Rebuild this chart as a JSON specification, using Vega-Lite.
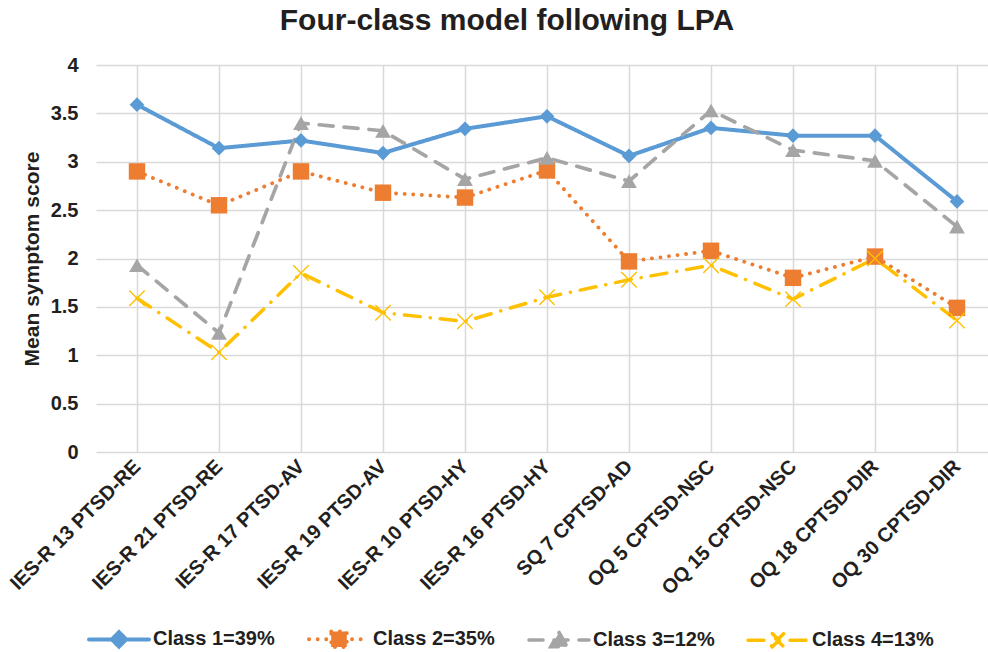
{
  "$schema": "https://vega.github.io/schema/vega-lite/v6.json",
  "width": 892,
  "height": 387,
  "autosize": "none",
  "padding": {"left": 96, "top": 65, "right": 0, "bottom": 200},
  "background": "white",
  "config": {
    "font": "Liberation Sans",
    "view": {"stroke": null},
    "axis": {"labelColor": "#231f20", "titleColor": "#231f20"}
  },
  "title": {
    "text": "Four-class model following LPA",
    "fontSize": 30,
    "fontWeight": "bold",
    "color": "#231f20",
    "anchor": "middle",
    "frame": "group",
    "dx": -35,
    "offset": 19
  },
  "data": {
    "values": [
      {"item": "IES-R 13 PTSD-RE", "cls": "Class 1=39%", "score": 3.59},
      {"item": "IES-R 21 PTSD-RE", "cls": "Class 1=39%", "score": 3.14},
      {"item": "IES-R 17 PTSD-AV", "cls": "Class 1=39%", "score": 3.22},
      {"item": "IES-R 19 PTSD-AV", "cls": "Class 1=39%", "score": 3.09},
      {"item": "IES-R 10 PTSD-HY", "cls": "Class 1=39%", "score": 3.34},
      {"item": "IES-R 16 PTSD-HY", "cls": "Class 1=39%", "score": 3.47},
      {"item": "SQ 7 CPTSD-AD", "cls": "Class 1=39%", "score": 3.06},
      {"item": "OQ 5 CPTSD-NSC", "cls": "Class 1=39%", "score": 3.35},
      {"item": "OQ 15 CPTSD-NSC", "cls": "Class 1=39%", "score": 3.27},
      {"item": "OQ 18 CPTSD-DIR", "cls": "Class 1=39%", "score": 3.27},
      {"item": "OQ 30 CPTSD-DIR", "cls": "Class 1=39%", "score": 2.59},
      {"item": "IES-R 13 PTSD-RE", "cls": "Class 2=35%", "score": 2.9},
      {"item": "IES-R 21 PTSD-RE", "cls": "Class 2=35%", "score": 2.55},
      {"item": "IES-R 17 PTSD-AV", "cls": "Class 2=35%", "score": 2.9},
      {"item": "IES-R 19 PTSD-AV", "cls": "Class 2=35%", "score": 2.68},
      {"item": "IES-R 10 PTSD-HY", "cls": "Class 2=35%", "score": 2.63},
      {"item": "IES-R 16 PTSD-HY", "cls": "Class 2=35%", "score": 2.91},
      {"item": "SQ 7 CPTSD-AD", "cls": "Class 2=35%", "score": 1.97},
      {"item": "OQ 5 CPTSD-NSC", "cls": "Class 2=35%", "score": 2.08},
      {"item": "OQ 15 CPTSD-NSC", "cls": "Class 2=35%", "score": 1.8},
      {"item": "OQ 18 CPTSD-DIR", "cls": "Class 2=35%", "score": 2.02},
      {"item": "OQ 30 CPTSD-DIR", "cls": "Class 2=35%", "score": 1.49},
      {"item": "IES-R 13 PTSD-RE", "cls": "Class 3=12%", "score": 1.93},
      {"item": "IES-R 21 PTSD-RE", "cls": "Class 3=12%", "score": 1.23},
      {"item": "IES-R 17 PTSD-AV", "cls": "Class 3=12%", "score": 3.4},
      {"item": "IES-R 19 PTSD-AV", "cls": "Class 3=12%", "score": 3.32},
      {"item": "IES-R 10 PTSD-HY", "cls": "Class 3=12%", "score": 2.82},
      {"item": "IES-R 16 PTSD-HY", "cls": "Class 3=12%", "score": 3.04},
      {"item": "SQ 7 CPTSD-AD", "cls": "Class 3=12%", "score": 2.8},
      {"item": "OQ 5 CPTSD-NSC", "cls": "Class 3=12%", "score": 3.53},
      {"item": "OQ 15 CPTSD-NSC", "cls": "Class 3=12%", "score": 3.12},
      {"item": "OQ 18 CPTSD-DIR", "cls": "Class 3=12%", "score": 3.01},
      {"item": "OQ 30 CPTSD-DIR", "cls": "Class 3=12%", "score": 2.33},
      {"item": "IES-R 13 PTSD-RE", "cls": "Class 4=13%", "score": 1.59},
      {"item": "IES-R 21 PTSD-RE", "cls": "Class 4=13%", "score": 1.03},
      {"item": "IES-R 17 PTSD-AV", "cls": "Class 4=13%", "score": 1.85},
      {"item": "IES-R 19 PTSD-AV", "cls": "Class 4=13%", "score": 1.44},
      {"item": "IES-R 10 PTSD-HY", "cls": "Class 4=13%", "score": 1.35},
      {"item": "IES-R 16 PTSD-HY", "cls": "Class 4=13%", "score": 1.6},
      {"item": "SQ 7 CPTSD-AD", "cls": "Class 4=13%", "score": 1.78},
      {"item": "OQ 5 CPTSD-NSC", "cls": "Class 4=13%", "score": 1.93},
      {"item": "OQ 15 CPTSD-NSC", "cls": "Class 4=13%", "score": 1.58},
      {"item": "OQ 18 CPTSD-DIR", "cls": "Class 4=13%", "score": 2.0},
      {"item": "OQ 30 CPTSD-DIR", "cls": "Class 4=13%", "score": 1.36}
    ]
  },
  "encoding": {
    "y": {
      "field": "score",
      "type": "quantitative",
      "scale": {"domain": [0, 4], "nice": false, "zero": true},
      "axis": {
        "values": [0, 0.5, 1, 1.5, 2, 2.5, 3, 3.5, 4],
        "format": "~g",
        "title": "Mean symptom score",
        "titleFontSize": 21,
        "titleFontWeight": "bold",
        "titlePadding": 8,
        "labelFontSize": 20,
        "labelFontWeight": "bold",
        "labelPadding": 18,
        "grid": true,
        "gridColor": "#d9d9d9",
        "gridWidth": 1.5,
        "domain": false,
        "ticks": false
      }
    }
  },
  "layer": [
    {
      "mark": {"type": "line", "strokeCap": "round", "strokeJoin": "round"},
      "encoding": {
        "x": {
          "field": "item",
          "type": "nominal",
          "sort": null,
          "scale": {"paddingInner": 0, "paddingOuter": 0, "range": [0, 902]},
          "axis": {
            "orient": "top",
            "bandPosition": 0,
            "grid": true,
            "gridColor": "#d9d9d9",
            "gridWidth": 1.5,
            "labels": false,
            "ticks": false,
            "domain": false,
            "title": null
          }
        },
        "color": {
          "field": "cls",
          "type": "nominal",
          "scale": {
            "domain": ["Class 1=39%", "Class 2=35%", "Class 3=12%", "Class 4=13%"],
            "range": ["#5b9bd5", "#ed7d31", "#a5a5a5", "#ffc000"]
          },
          "legend": {
            "title": null,
            "orient": "none",
            "direction": "horizontal",
            "columns": 4,
            "legendX": -9,
            "legendY": 542,
            "labelFontSize": 20,
            "labelFontWeight": "bold",
            "labelColor": "#231f20",
            "labelOffset": 2,
            "columnPadding": 26,
            "labelLimit": 300,
            "symbolSize": 3600,
            "symbolStrokeWidth": 3,
            "encoding": {
              "symbols": {
                "shape": {"value": {"expr": "datum.value === 'Class 1=39%' ? 'M-1,0H1M0,-0.24L0.24,0L0,0.24L-0.24,0Z' : datum.value === 'Class 2=35%' ? 'M-1,0H1M-0.26,-0.26H0.26V0.26H-0.26Z' : datum.value === 'Class 3=12%' ? 'M-1,0H1M0,-0.25L0.27,0.22H-0.27Z' : 'M-1,0H-0.4M0.4,0H1M-0.19,-0.22L0,-0.03L0.19,-0.22L0.22,-0.19L0.03,0L0.22,0.19L0.19,0.22L0,0.03L-0.19,0.22L-0.22,0.19L-0.03,0L-0.22,-0.19Z'"}},
                "fill": {"value": {"expr": "scale('color', datum.value)"}},
                "stroke": {"value": {"expr": "scale('color', datum.value)"}},
                "strokeDash": {"value": {"expr": "scale('strokeDash', datum.value)"}},
                "strokeWidth": {"value": 3},
                "strokeCap": {"value": "round"},
                "size": {"value": 3600},
                "opacity": {"value": 1}
              }
            }
          }
        },
        "strokeDash": {
          "field": "cls",
          "type": "nominal",
          "scale": {
            "domain": ["Class 1=39%", "Class 2=35%", "Class 3=12%", "Class 4=13%"],
            "range": [[1, 0], [0.1, 8.5], [14, 11], [16, 10, 0.1, 10]]
          },
          "legend": null
        },
        "strokeWidth": {
          "field": "cls",
          "type": "nominal",
          "scale": {
            "domain": ["Class 1=39%", "Class 2=35%", "Class 3=12%", "Class 4=13%"],
            "range": [4, 3.5, 4, 4.5]
          },
          "legend": null
        }
      }
    },
    {
      "transform": [{"filter": "datum.cls === 'Class 1=39%'"}],
      "mark": {"type": "point", "shape": "diamond", "filled": true, "opacity": 1, "size": 216},
      "encoding": {
        "x": {
          "field": "item",
          "type": "nominal",
          "sort": null,
          "axis": {
            "orient": "bottom",
            "labelAngle": -45,
            "labelAlign": "right",
            "labelBaseline": "middle",
            "labelFontSize": 20,
            "labelFontWeight": "bold",
            "labelPadding": 11,
            "labelLimit": 400,
            "labelOverlap": false,
            "grid": false,
            "ticks": false,
            "domain": false,
            "title": null
          }
        },
        "color": {"field": "cls", "type": "nominal", "legend": null}
      }
    },
    {
      "transform": [{"filter": "datum.cls === 'Class 2=35%'"}],
      "mark": {"type": "point", "shape": "square", "filled": true, "opacity": 1, "size": 270},
      "encoding": {
        "x": {"field": "item", "type": "nominal", "sort": null, "axis": null},
        "color": {"field": "cls", "type": "nominal", "legend": null}
      }
    },
    {
      "transform": [{"filter": "datum.cls === 'Class 3=12%'"}],
      "mark": {"type": "point", "shape": "triangle-up", "filled": true, "opacity": 1, "size": 250},
      "encoding": {
        "x": {"field": "item", "type": "nominal", "sort": null, "axis": null},
        "color": {"field": "cls", "type": "nominal", "legend": null}
      }
    },
    {
      "transform": [{"filter": "datum.cls === 'Class 4=13%'"}],
      "mark": {"type": "point", "shape": "M-0.88,-1L0,-0.12L0.88,-1L1,-0.88L0.12,0L1,0.88L0.88,1L0,0.12L-0.88,1L-1,0.88L-0.12,0L-1,-0.88Z", "filled": true, "opacity": 1, "size": 270},
      "encoding": {
        "x": {"field": "item", "type": "nominal", "sort": null, "axis": null},
        "color": {"field": "cls", "type": "nominal", "legend": null}
      }
    }
  ],
  "resolve": {
    "axis": {"x": "independent"}
  }
}
